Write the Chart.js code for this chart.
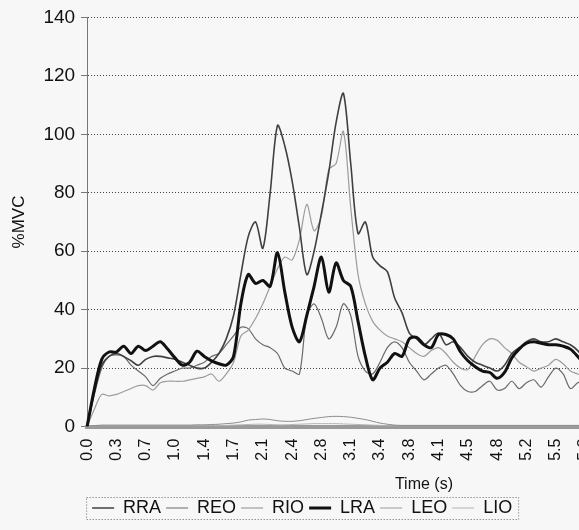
<!DOCTYPE html>
<html>
<head>
<meta charset="utf-8">
<script src="https://cdn.jsdelivr.net/npm/chart.js@4"></script>
<style>
  html, body { margin: 0; padding: 0; overflow: hidden; background: #f7f7f7; }
  #wrap { width: 579px; height: 530px; overflow: hidden; }
</style>
</head>
<body>
<div id="wrap"><canvas id="myChart" width="784" height="530"></canvas></div>
<script>
// Tick labels, one every 4 samples
const tickLabels = ['0.0', '0.3', '0.7', '1.0', '1.4', '1.7', '2.1', '2.4', '2.8', '3.1', '3.4', '3.8',
  '4.1', '4.5', '4.8', '5.2', '5.5', '5.8', '6.2', '6.5', '6.9', '7.2', '7.6', '7.9'];
const samplesPerTick = 4;
const sampleCount = 93;

const seriesNames = ['RRA', 'REO', 'RIO', 'LRA', 'LEO', 'LIO'];

// %MVC values
const rra = [0, 12, 21, 24, 25, 24, 22.5, 21, 23, 24,
  24, 23.5, 23, 22, 21, 20, 20, 22, 25, 30,
  38, 52, 65, 70, 61, 80, 103, 96, 84, 68,
  52, 60, 73, 87, 104, 114, 90, 66, 70, 58,
  55, 53, 44, 39, 32, 30, 28, 30, 32, 28,
  29, 27, 24, 22, 21, 20, 19, 21, 25, 27,
  29, 30, 29, 29, 30, 29, 28, 26, 23];
const reo = [0, 11, 20, 24, 24.5, 24, 21, 19, 17, 14,
  16.5, 18, 19, 20, 20, 21, 22, 24, 25, 28,
  31, 34, 33.5, 30, 28, 27, 25, 20, 19, 18,
  38, 42, 37, 30, 34, 42, 38, 24, 19, 18,
  22, 27, 29, 27, 22, 19, 16, 18, 20, 21,
  18, 14, 12, 12, 14, 15.5, 12.5, 13, 15.5, 13,
  15, 16, 13.5, 17, 20, 18, 13, 15, 16];
const rio = [0, 0.3, 0.5, 0.5, 0.5, 0.5, 0.5, 0.5, 0.5, 0.5,
  0.5, 0.5, 0.5, 0.5, 0.5, 0.6, 0.6, 0.7, 0.8, 1,
  1.2, 1.6, 2.2, 2.4, 2.6, 2.4, 2, 1.8, 1.8, 2,
  2.4, 2.8, 3.1, 3.4, 3.5, 3.4, 3.2, 2.8, 2.4, 1.8,
  1.2, 0.8, 0.5, 0.4, 0.4, 0.4, 0.4, 0.4, 0.4, 0.4,
  0.4, 0.4, 0.4, 0.4, 0.4, 0.4, 0.4, 0.4, 0.4, 0.4,
  0.4, 0.4, 0.4, 0.4, 0.4, 0.4, 0.4, 0.4, 0.4];
const lra = [0, 13, 23, 25.5, 25.5, 27.5, 25, 27.5, 26, 27.5,
  29, 26.5, 23.5, 21, 22, 25.8, 24, 22.5, 21.5, 21,
  24, 42, 52, 49, 50, 48, 59.5, 46, 34, 29,
  38, 48, 58, 46, 56, 50, 48, 36, 24, 16,
  20, 22, 25, 24, 30, 30.5, 28, 27, 31.5, 31.5,
  30, 25.5, 22.5, 20.5, 19, 18.5, 16.5, 18.5, 23.5, 26.5,
  28.5, 29, 28.5, 28, 28, 27.5, 26.5, 24, 21];
const leo = [0, 6, 11, 10.5, 11, 12, 13, 14, 14, 12.5,
  15, 15.5, 15.5, 15.5, 16, 16.5, 17, 18, 15.5, 18,
  22, 31, 33, 37, 42, 48, 54, 58, 57, 64,
  76, 67, 72, 88, 90, 101, 75, 52, 42, 36,
  33, 31, 30, 29, 27, 25, 24, 26, 27, 25,
  22, 20, 19.5, 24, 28, 30, 29.5, 27, 25, 22,
  20.5, 19, 20, 21, 23, 21.5, 19, 18, 17];
const lio = [0, 0.2, 0.3, 0.3, 0.3, 0.3, 0.3, 0.3, 0.3, 0.3,
  0.3, 0.3, 0.3, 0.3, 0.3, 0.3, 0.3, 0.3, 0.3, 0.4,
  0.5, 0.6, 0.7, 0.8, 0.8, 0.7, 0.6, 0.6, 0.7, 0.8,
  0.9, 1, 1, 1, 1, 0.9, 0.8, 0.7, 0.6, 0.5,
  0.4, 0.3, 0.3, 0.3, 0.3, 0.3, 0.3, 0.3, 0.3, 0.3,
  0.3, 0.3, 0.3, 0.3, 0.3, 0.3, 0.3, 0.3, 0.3, 0.3,
  0.3, 0.3, 0.3, 0.3, 0.3, 0.3, 0.3, 0.3, 0.3];

const seriesValues = [rra, reo, rio, lra, leo, lio];
const seriesColors = ['#404040', '#6a6a6a', '#8c8c8c', '#111111', '#9c9c9c', '#b4b4b4'];
const seriesWidths = [1.6, 1.2, 1, 3, 1.2, 1];
const drawOrder = [1, 3, 4, 0, 2, 5];

const FONT = '"Liberation Sans", Arial, sans-serif';

// Dotted frame round the legend
const legendFrame = {
  id: 'legendFrame',
  afterDraw(chart) {
    const boxes = chart.legend?.legendHitBoxes;
    if (!boxes || !boxes.length) return;
    const left = Math.min(...boxes.map(b => b.left)) - 6;
    const right = Math.max(...boxes.map(b => b.left + b.width)) + 6;
    const top = Math.min(...boxes.map(b => b.top)) - 2;
    const bottom = Math.max(...boxes.map(b => b.top + b.height)) + 2;
    const ctx = chart.ctx;
    ctx.save();
    ctx.strokeStyle = '#666';
    ctx.lineWidth = 1;
    ctx.setLineDash([1, 2]);
    ctx.strokeRect(left + 0.5, top + 0.5, right - left, bottom - top);
    ctx.restore();
  }
};

const ctx = document.getElementById('myChart').getContext('2d');
new Chart(ctx, {
  type: 'line',
  data: {
    labels: Array.from({ length: sampleCount }, (_, i) => i),
    datasets: seriesNames.map((name, i) => ({
      label: name,
      data: seriesValues[i],
      borderColor: seriesColors[i],
      backgroundColor: seriesColors[i],
      borderWidth: seriesWidths[i],
      pointRadius: 0,
      tension: 0.3,
      fill: false,
      order: drawOrder[i],
    })),
  },
  options: {
    responsive: false,
    animation: false,
    layout: { padding: { top: 8, right: 5, bottom: 3, left: 9 } },
    plugins: {
      tooltip: { enabled: false },
      legend: {
        position: 'bottom',
        fullSize: false,
        align: 'start',
        labels: {
          usePointStyle: true,
          pointStyle: 'line',
          pointStyleWidth: 22,
          padding: 5,
          color: '#111',
          font: { family: FONT, size: 18 },
          sort: (a, b) => a.datasetIndex - b.datasetIndex,
        },
      },
    },
    scales: {
      x: {
        type: 'category',
        offset: false,
        grid: { display: false },
        border: { display: true, color: '#9a9a9a', width: 4 },
        ticks: {
          autoSkip: false,
          maxRotation: 90,
          minRotation: 90,
          padding: 4,
          color: '#111',
          font: { family: FONT, size: 16 },
          callback: (value, index) => (index % samplesPerTick === 0 ? tickLabels[index / samplesPerTick] : null),
        },
        title: {
          display: true,
          text: 'Time (s)',
          color: '#111',
          font: { family: FONT, size: 16 },
          padding: { top: 10, bottom: 0 },
        },
      },
      y: {
        min: 0,
        max: 140,
        ticks: {
          stepSize: 20,
          padding: 6,
          color: '#111',
          font: { family: FONT, size: 19 },
        },
        grid: {
          color: '#444',
          tickLength: 6,
          lineWidth: 1,
          tickColor: '#777',
        },
        border: { display: true, color: '#777', dash: [1, 2] },
        title: {
          display: true,
          text: '%MVC',
          color: '#111',
          font: { family: FONT, size: 17 },
          padding: { top: 0, bottom: 8 },
        },
      },
    },
  },
  plugins: [legendFrame],
});
</script>
</body>
</html>
